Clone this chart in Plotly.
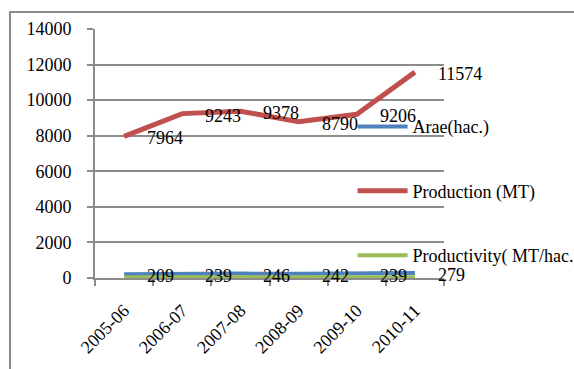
import plotly.graph_objects as go

years = ["2005-06", "2006-07", "2007-08", "2008-09", "2009-10", "2010-11"]
area = [209, 239, 246, 242, 239, 279]
production = [7964, 9243, 9378, 8790, 9206, 11574]
productivity = [38.1, 38.7, 38.1, 36.3, 38.5, 41.5]
y_ticks = [0, 2000, 4000, 6000, 8000, 10000, 12000, 14000]
y_tick_text = ["0", "2000", "4000", "6000", "8000", "10000", "12000", "14000"]

FONT = "Liberation Serif"
GRID = "#8c8c8c"

fig = go.Figure()
fig.add_trace(go.Scatter(x=years, y=area, mode="lines", name="Arae(hac.)",
                         line=dict(color="#4F81BD", width=4), legendgroup="a"))
fig.add_trace(go.Scatter(x=years, y=production, mode="lines", name="Production (MT)",
                         line=dict(color="#C0504D", width=5), legendgroup="p"))
fig.add_trace(go.Scatter(x=years, y=productivity, mode="lines", name="Productivity( MT/hac.)",
                         line=dict(color="#9BBB59", width=4), legendgroup="q"))

annotations = []
for series in (production, area):
    for xv, yv in zip(years, series):
        annotations.append(dict(x=xv, y=yv, xref="x", yref="y", text=str(yv),
                                showarrow=False, xanchor="left", yanchor="middle",
                                xshift=21, yshift=-2,
                                font=dict(family=FONT, size=18, color="black")))

fig.update_layout(
    width=574, height=369,
    margin=dict(l=95, r=130, t=29, b=91, autoexpand=False),
    paper_bgcolor="white", plot_bgcolor="white",
    font=dict(family=FONT, size=18, color="black"),
    showlegend=True,
    legend=dict(x=0.738, y=0.682, xanchor="left", yanchor="top",
                bgcolor="rgba(0,0,0,0)", tracegroupgap=38,
                font=dict(family=FONT, size=18, color="black"), itemwidth=50),
    xaxis=dict(type="category", showgrid=False, showline=True, linecolor=GRID, linewidth=2,
               ticks="outside", tickson="boundaries", ticklen=6, tickcolor=GRID, tickwidth=2,
               tickangle=-45, ticklabelstandoff=13, tickfont=dict(family=FONT, size=18),
               range=[-0.5, 5.5]),
    yaxis=dict(range=[0, 14000], tickvals=y_ticks, ticktext=y_tick_text, showgrid=True,
               gridcolor=GRID, gridwidth=2,
               showline=True, linecolor=GRID, linewidth=2, ticks="outside", ticklen=6,
               tickcolor=GRID, tickwidth=2, ticklabelstandoff=12, zeroline=False,
               tickfont=dict(family=FONT, size=18)),
    annotations=annotations,
    shapes=[dict(type="rect", xref="paper", yref="paper", x0=-0.2436, x1=1.6,
                 y0=-0.6, y1=1.068, line=dict(color=GRID, width=2), layer="below")],
)

fig.write_html("out.html")
